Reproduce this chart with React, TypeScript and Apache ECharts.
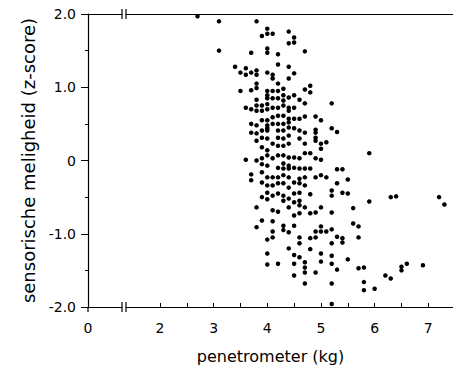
import React, { useEffect, useRef } from "react";
import * as echarts from "echarts";

// penetrometer readings (kg), grouped by column, and the sensory z-scores at each
const penetrometerColumns = [
  2.7, 3.1, 3.4, 3.5, 3.6, 3.7, 3.8, 3.9, 4.0, 4.1, 4.2, 4.3, 4.4, 4.5, 4.6, 4.7,
  4.8, 4.9, 5.0, 5.1, 5.2, 5.3, 5.4, 5.5, 5.6, 5.7, 5.8, 5.9, 6.0, 6.2, 6.3, 6.4,
  6.5, 6.6, 6.9, 7.2, 7.3,
];
const meligheidColumns: number[][] = [
  [1.97],
  [1.9, 1.5],
  [1.28],
  [1.2, 0.95],
  [1.26, 1.17, 0.72, 0.01],
  [1.47, 1.2, 0.96, 0.7, 0.5, 0.38, -0.19, -0.27],
  [1.9, 1.23, 1.17, 1.05, 0.99, 0.83, 0.75, 0.68, 0.48, 0.37, 0.27, 0.0, -0.64, -0.91],
  [1.7, 0.75, 0.68, 0.55, 0.41, 0.31, 0.18, 0.03, -0.05, -0.16, -0.3, -0.5, -0.82],
  [1.8, 1.73, 1.53, 1.47, 1.2, 0.95, 0.89, 0.85, 0.77, 0.7, 0.55, 0.48, 0.44, 0.41, 0.3, 0.14, 0.07, -0.07, -0.23, -0.34, -0.44, -0.53, -1.08, -1.27, -1.42],
  [1.73, 1.17, 1.12, 0.95, 0.85, 0.72, 0.59, 0.5, 0.23, 0.03, -0.23, -0.34, -0.48, -0.68, -0.83, -0.97, -1.05],
  [1.45, 1.31, 1.05, 0.95, 0.85, 0.72, 0.61, 0.5, 0.41, 0.31, 0.2, 0.07, -0.1, -0.23, -0.31, -0.45, -0.7, -1.41],
  [0.98, 0.89, 0.82, 0.75, 0.61, 0.5, 0.41, 0.3, 0.2, 0.07, -0.04, -0.11, -0.2, -0.31, -0.48, -0.55, -0.89, -0.95],
  [1.76, 1.6, 1.28, 1.12, 0.86, 0.72, 0.68, 0.57, 0.52, 0.45, 0.34, 0.23, 0.04, -0.07, -0.11, -0.23, -0.37, -0.52, -0.64, -0.98, -1.2],
  [1.68, 1.61, 1.19, 0.89, 0.72, 0.57, 0.44, 0.04, -0.1, -0.3, -0.45, -0.57, -0.75, -0.89, -1.29, -1.41, -1.57],
  [0.83, 0.57, 0.41, 0.3, 0.03, -0.11, -0.25, -0.31, -0.44, -0.55, -0.61, -0.72, -1.05, -1.13, -1.32],
  [1.49, 0.97, 0.78, 0.6, 0.38, 0.23, 0.1, -0.11, -0.23, -0.34, -0.64, -1.39, -1.46, -1.53, -1.68],
  [1.02, 0.93, 0.1, -0.11, -0.46, -0.72, -1.06, -1.21],
  [0.6, 0.42, 0.38, 0.31, 0.27, 0.03, -0.23, -0.71, -0.97, -1.05, -1.53],
  [0.55, 0.23, 0.16, 0.01, -0.2, -0.64, -0.9, -0.97, -1.27, -1.38],
  [0.25, -0.23, -0.97],
  [0.78, 0.44, -0.41, -0.48, -0.71, -0.94, -1.13, -1.3, -1.41, -1.68, -1.96],
  [0.39, -0.12, -0.31, -1.04, -1.49],
  [-0.12, -0.44, -1.06, -1.12],
  [-0.26, -0.45, -1.35],
  [-0.65, -0.86],
  [-0.9, -1.05, -1.47],
  [-1.46, -1.66, -1.77],
  [0.1, -0.56],
  [-1.75],
  [-1.57],
  [-0.5, -1.61],
  [-0.49],
  [-1.45, -1.5],
  [-1.41],
  [-1.43],
  [-0.5],
  [-0.6],
];

// axis: "0" sits just left of the axis break, the scale runs linearly from about 1.3 kg
const X_ORIGIN = 0.66;
const X_MAX = 7.46;
const xLabelValues = [X_ORIGIN, 2, 3, 4, 5, 6, 7];
const xTickLabels = ["0", "2", "3", "4", "5", "6", "7"];
const xTickValues = [2, 2.5, 3, 3.5, 4, 4.5, 5, 5.5, 6, 6.5, 7];
const yTickValues = [-2, -1, 0, 1, 2];
const yTickLabels = ["-2.0", "-1.0", "0", "1.0", "2.0"];

const FONT = "DejaVu Sans";

export default function App() {
  const ref = useRef<HTMLDivElement>(null);

  useEffect(() => {
    if (!ref.current) return;
    const chart = echarts.init(ref.current, null, { renderer: "svg" });

    const points: number[][] = [];
    penetrometerColumns.forEach((x, i) => {
      meligheidColumns[i].forEach((y) => points.push([x, y]));
    });

    const gl = 88, gt = 14, gb = 307;
    const brk = (y: number) => [
      { type: "rect", shape: { x: 122.5, y: y - 3, width: 3, height: 6 }, style: { fill: "#fff" }, z: 100 },
      { type: "line", shape: { x1: 122, y1: y - 5, x2: 122, y2: y + 5 }, style: { stroke: "#000", lineWidth: 1.2 }, z: 101 },
      { type: "line", shape: { x1: 126, y1: y - 5, x2: 126, y2: y + 5 }, style: { stroke: "#000", lineWidth: 1.2 }, z: 101 },
    ];

    chart.setOption({
      animation: false,
      backgroundColor: "#fff",
      grid: { left: gl, top: gt, right: 0, bottom: 375 - gb, containLabel: false },
      xAxis: [
        {
          type: "value",
          min: X_ORIGIN,
          max: X_MAX,
          position: "bottom",
          name: "penetrometer (kg)",
          nameLocation: "middle",
          nameGap: 41,
          nameTextStyle: { fontFamily: FONT, fontSize: 16, color: "#000" },
          axisLine: { show: true, onZero: false, lineStyle: { color: "#000", width: 1.2 } },
          axisTick: { show: true, inside: true, length: 4, customValues: xTickValues, lineStyle: { color: "#000" } },
          axisLabel: {
            show: true,
            customValues: xLabelValues,
            margin: 14,
            fontFamily: FONT,
            fontSize: 14,
            color: "#000",
            formatter: (v: number) => {
              let best = 0;
              xLabelValues.forEach((lv, i) => {
                if (Math.abs(lv - v) < Math.abs(xLabelValues[best] - v)) best = i;
              });
              return xTickLabels[best];
            },
          },
          splitLine: { show: false },
        },
        {
          type: "value",
          min: X_ORIGIN,
          max: X_MAX,
          position: "top",
          axisLine: { show: true, onZero: false, lineStyle: { color: "#000", width: 1.2 } },
          axisTick: { show: false },
          axisLabel: { show: false },
          splitLine: { show: false },
        },
      ],
      yAxis: {
        type: "value",
        min: -2,
        max: 2,
        interval: 1,
        name: "sensorische meligheid (z-score)",
        nameLocation: "middle",
        nameGap: 48,
        nameTextStyle: { fontFamily: FONT, fontSize: 18, color: "#000" },
        axisLine: { show: true, onZero: false, lineStyle: { color: "#000", width: 1.2 } },
        axisTick: { show: true, inside: false, length: 7, lineStyle: { color: "#000" } },
        minorTick: { show: true, splitNumber: 2, length: 3, lineStyle: { color: "#000" } },
        axisLabel: {
          margin: 12,
          fontFamily: FONT,
          fontSize: 14,
          color: "#000",
          formatter: (v: number) => {
            const i = yTickValues.indexOf(v);
            return i >= 0 ? yTickLabels[i] : "";
          },
        },
        splitLine: { show: false },
      },
      graphic: [
        ...brk(gt),
        ...brk(gb),
        { type: "line", shape: { x1: gl, y1: gb, x2: gl, y2: gb + 5 }, style: { stroke: "#000", lineWidth: 1.2 }, z: 101 },
      ],
      series: [
        {
          type: "scatter",
          xAxisIndex: 0,
          data: points,
          symbol: "circle",
          symbolSize: 4.5,
          itemStyle: { color: "#000", opacity: 1 },
        },
      ],
    });

    return () => chart.dispose();
  }, []);

  return <div ref={ref} style={{ width: 453, height: 375, position: "absolute", left: 0, top: 0 }} />;
}
